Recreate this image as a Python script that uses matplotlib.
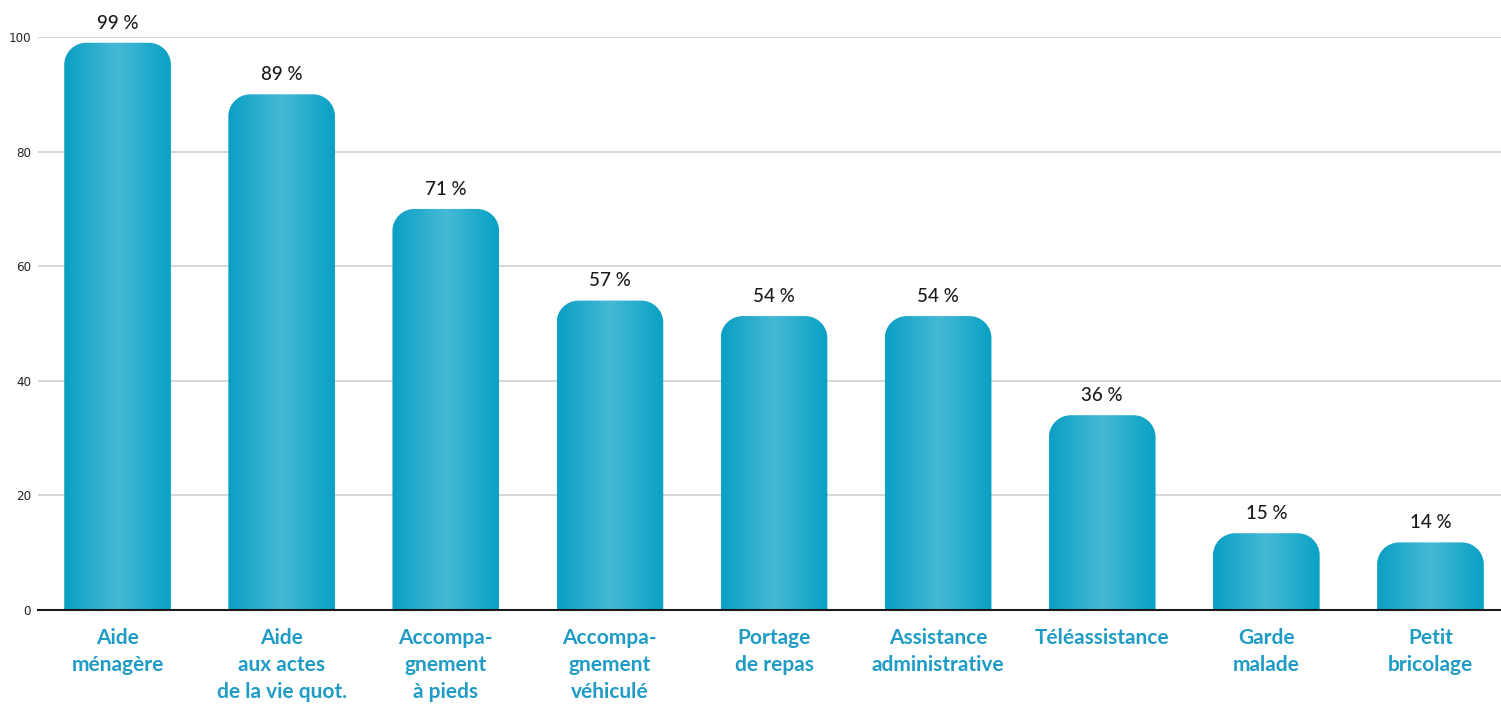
# Diagramme en barres : services utilisés (barres arrondies avec dégradé)
import numpy as np
import matplotlib
matplotlib.use("Agg")
import matplotlib.pyplot as plt
from matplotlib.path import Path
from matplotlib.patches import PathPatch
from matplotlib.colors import LinearSegmentedColormap

# données
categories = ["Aide\nménagère", "Aide\naux actes\nde la vie quot.", "Accompa-\ngnement\nà pieds",
              "Accompa-\ngnement\nvéhiculé", "Portage\nde repas", "Assistance\nadministrative",
              "Téléassistance", "Garde\nmalade", "Petit\nbricolage"]
hauteurs = [99, 90, 70, 54, 51.3, 51.3, 34, 13.4, 11.8]   # hauteur lue des barres
etiquettes = ["99 %", "89 %", "71 %", "57 %", "54 %", "54 %", "36 %", "15 %", "14 %"]
yticks = [0, 20, 40, 60, 80, 100]

fig = plt.figure(figsize=(15.01, 7.04), dpi=100)
ax = fig.add_axes([0.0253, 0.1335, 0.9747, 0.8139])

x = np.arange(len(categories))
bars = ax.bar(x, hauteurs, width=0.65, color="none", edgecolor="none")

ax.set_xlim(-0.485, 8.43)
ax.set_ylim(0, 100)

# dégradé horizontal : foncé sur les bords, clair au centre
cmap = LinearSegmentedColormap.from_list(
    "bleu", [(0.0, "#0a9fc4"), (0.5, "#46b9d5"), (1.0, "#08a1c5")])
grad = np.linspace(0, 1, 256).reshape(1, -1)

# rayon des coins en pixels converti en unités de données
px_x = ax.get_window_extent().width / (8.43 + 0.485)
px_y = ax.get_window_extent().height / 100
rx, ry = 22 / px_x, 22 / px_y
k = 0.5523

for b in bars:
    x0, x1, h = b.get_x(), b.get_x() + b.get_width(), b.get_height()
    verts = [(x0, 0), (x0, h - ry),
             (x0, h - ry + k * ry), (x0 + rx - k * rx, h), (x0 + rx, h),
             (x1 - rx, h),
             (x1 - rx + k * rx, h), (x1, h - ry + k * ry), (x1, h - ry),
             (x1, 0), (x0, 0)]
    codes = [Path.MOVETO, Path.LINETO,
             Path.CURVE4, Path.CURVE4, Path.CURVE4,
             Path.LINETO,
             Path.CURVE4, Path.CURVE4, Path.CURVE4,
             Path.LINETO, Path.CLOSEPOLY]
    patch = PathPatch(Path(verts, codes), facecolor="none", edgecolor="none")
    ax.add_patch(patch)
    im = ax.imshow(grad, cmap=cmap, extent=[x0, x1, 0, h], aspect="auto",
                   interpolation="bicubic", zorder=2)
    im.set_clip_path(patch)

ax.set_xlim(-0.485, 8.43)
ax.set_ylim(0, 100)

# étiquettes au-dessus des barres
for b, t in zip(bars, etiquettes):
    ax.annotate(t, (b.get_x() + b.get_width() / 2, b.get_height()),
                xytext=(0, 8), textcoords="offset points", ha="center", va="bottom",
                fontsize=13.5, color="#1a1a1a", family="Lato", fontweight="medium",
                annotation_clip=False)

# axes et grille
ax.set_yticks(yticks)
ax.set_yticklabels([str(v) for v in yticks], fontsize=9.5, color="#222222",
                   family="DejaVu Sans", stretch="condensed")
ax.yaxis.grid(True, color="#d0d0d0", linewidth=1.2)
ax.set_axisbelow(True)
ax.tick_params(axis="y", length=0, pad=5)
ax.tick_params(axis="x", length=0, pad=13)
ax.set_xticks(x)
ax.set_xticklabels(categories, fontsize=15, fontweight="bold", color="#1f9cc5",
                   family="Lato", linespacing=1.45, va="top")
for s in ["left", "right", "top"]:
    ax.spines[s].set_visible(False)
ax.spines["bottom"].set_color("#1a1a1a")
ax.spines["bottom"].set_linewidth(1.5)
ax.spines["bottom"].set_zorder(3)

fig.savefig("out.png", dpi=100)
